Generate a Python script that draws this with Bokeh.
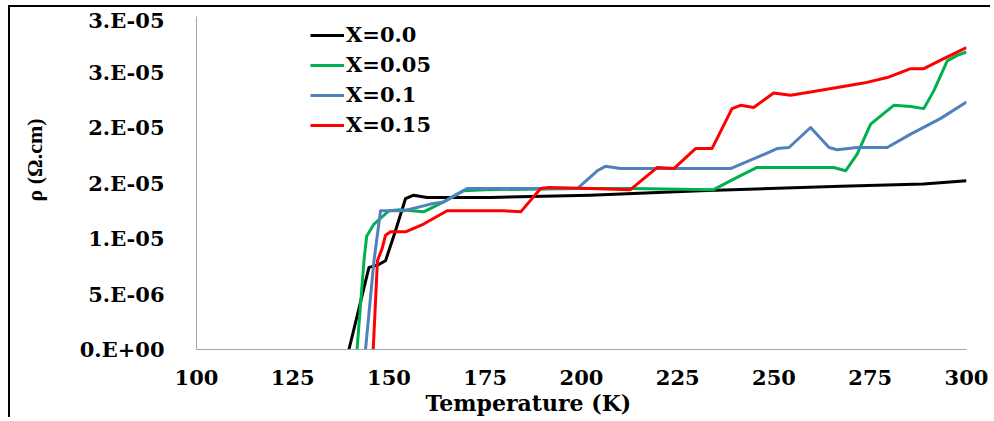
from bokeh.plotting import figure
from bokeh.models import (Range1d, FixedTicker, CustomJSTickFormatter, Legend,
                          LegendItem, Title)
from bokeh.embed import file_html
from bokeh.resources import INLINE

# ---------------- data ----------------
x_ticks = [100, 125, 150, 175, 200, 225, 250, 275, 300]
y_ticks = [0, 5e-6, 1e-5, 1.5e-5, 2e-5, 2.5e-5, 3e-5]
y_tick_labels = ["0.E+00", "5.E-06", "1.E-05", "2.E-05", "2.E-05", "3.E-05", "3.E-05"]

series_names = ["X=0.0", "X=0.05", "X=0.1", "X=0.15"]

t_x00 = [139.6, 144.8, 147.0, 149.1, 151.5, 154.3, 156.4, 159.9, 176.4, 202.3,
         230.9, 267.3, 288.8, 300.0]
r_x00 = [0.0, 7.4e-6, 7.6e-6, 8.0e-6, 1.05e-5, 1.36e-5, 1.39e-5, 1.37e-5, 1.37e-5,
         1.39e-5, 1.43e-5, 1.47e-5, 1.49e-5, 1.52e-5]

t_x05 = [141.7, 143.5, 144.2, 146.1, 150.0, 153.0, 159.0, 164.2, 169.4, 175.0,
         200.0, 212.7, 234.3, 240.4, 245.6, 251.7, 265.5, 268.6, 271.6, 275.1,
         281.1, 285.5, 288.9, 291.5, 295.0, 297.6, 300.0]
r_x05 = [0.0, 8.0e-6, 1.02e-5, 1.13e-5, 1.25e-5, 1.26e-5, 1.24e-5, 1.33e-5, 1.43e-5,
         1.44e-5, 1.45e-5, 1.45e-5, 1.44e-5, 1.55e-5, 1.64e-5, 1.64e-5, 1.64e-5,
         1.61e-5, 1.76e-5, 2.03e-5, 2.20e-5, 2.19e-5, 2.17e-5, 2.33e-5, 2.60e-5,
         2.65e-5, 2.68e-5]

t_x10 = [143.9, 146.1, 147.8, 153.9, 160.8, 164.2, 167.7, 170.3, 198.9, 204.1,
         206.2, 210.1, 238.7, 245.6, 250.8, 253.9, 259.5, 264.3, 266.4, 271.6,
         279.4, 285.5, 293.2, 300.0]
r_x10 = [0.0, 8.0e-6, 1.25e-5, 1.25e-5, 1.31e-5, 1.33e-5, 1.40e-5, 1.45e-5, 1.45e-5,
         1.61e-5, 1.65e-5, 1.63e-5, 1.63e-5, 1.73e-5, 1.81e-5, 1.82e-5, 2.00e-5,
         1.82e-5, 1.80e-5, 1.82e-5, 1.82e-5, 1.94e-5, 2.08e-5, 2.23e-5]

t_x15 = [145.9, 147.0, 148.2, 149.1, 150.4, 154.3, 159.0, 165.1, 179.8, 184.2,
         189.4, 191.5, 202.3, 212.7, 219.7, 224.0, 229.6, 233.9, 239.1, 241.3,
         244.7, 249.9, 254.3, 259.5, 266.4, 273.3, 279.4, 285.5, 288.9, 294.1, 300.0]
r_x15 = [0.0, 8.0e-6, 9.07e-6, 1.03e-5, 1.06e-5, 1.06e-5, 1.13e-5, 1.25e-5, 1.25e-5,
         1.24e-5, 1.45e-5, 1.46e-5, 1.45e-5, 1.44e-5, 1.64e-5, 1.63e-5, 1.81e-5,
         1.81e-5, 2.17e-5, 2.20e-5, 2.18e-5, 2.31e-5, 2.29e-5, 2.32e-5, 2.36e-5,
         2.40e-5, 2.45e-5, 2.53e-5, 2.53e-5, 2.62e-5, 2.72e-5]

x_title = "Temperature (K)"
y_title = "ρ (Ω.cm)"

# ---------------- figure ----------------
FONT = "DejaVu Serif"
W, H = 982, 412

p = figure(width=W, height=H, output_backend="svg", toolbar_location=None,
           x_range=Range1d(100, 300), y_range=Range1d(0, 3e-5),
           min_border_left=186, min_border_right=26, min_border_top=9,
           min_border_bottom=70)
p.styles = {"margin-left": "8px", "margin-top": "5px",
            "border-left": "2px solid black", "border-top": "2px solid black"}
p.outline_line_color = None
p.grid.visible = False
p.background_fill_color = "white"
p.border_fill_color = "white"

for ax in (p.xaxis[0], p.yaxis[0]):
    ax.axis_line_color = "#A6A6A6"
    ax.axis_line_width = 1
    ax.major_tick_line_color = None
    ax.minor_tick_line_color = None
    ax.major_label_text_font = FONT
    ax.major_label_text_font_style = "bold"
    ax.major_label_text_font_size = "21px"
    ax.major_label_text_color = "black"

p.xaxis.ticker = FixedTicker(ticks=x_ticks)
p.xaxis.major_label_standoff = 14
p.yaxis.ticker = FixedTicker(ticks=y_ticks)
p.yaxis.formatter = CustomJSTickFormatter(args=dict(labels=y_tick_labels),
                                          code="return labels[index];")
p.yaxis.major_label_standoff = 26

colors = ["#000000", "#00B050", "#4F81BD", "#FF0000"]
ts = [t_x00, t_x05, t_x10, t_x15]
rs = [r_x00, r_x05, r_x10, r_x15]
items = []
for name, c, t, r in zip(series_names, colors, ts, rs):
    rr = p.line(t, r, line_color=c, line_width=3, line_join="round")
    items.append(LegendItem(label=name, renderers=[rr]))

legend = Legend(items=items, location=(114, 212), padding=0, margin=0,
                glyph_width=34, glyph_height=20, label_height=20,
                label_standoff=2, spacing=5,
                label_text_font=FONT, label_text_font_style="bold",
                label_text_font_size="21px", label_text_color="black",
                background_fill_alpha=0, border_line_color=None)
p.add_layout(legend)

p.add_layout(Title(text=x_title, align="left", offset=229, standoff=0,
                   text_color="black", text_font=FONT, text_font_style="bold",
                   text_font_size="22px"),
             "below")
p.add_layout(Title(text=y_title, align="left", offset=148, standoff=20,
                   padding=dict(left=0, right=0, top=0, bottom=20),
                   text_color="black", text_font="Liberation Serif",
                   text_font_style="bold", text_font_size="22px"),
             "left")

open("out.html", "w").write(file_html(p, INLINE))
